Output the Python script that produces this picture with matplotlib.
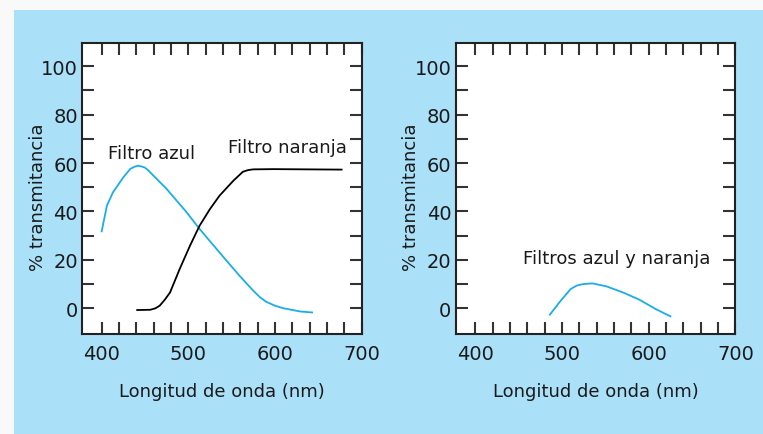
import matplotlib.pyplot as plt
from matplotlib.patches import Rectangle
from matplotlib.ticker import MultipleLocator, FixedLocator

# valores (nm, % transmitancia)
azul_x = [400, 406, 413, 425, 433, 438, 442, 446, 450, 454, 475, 498, 513, 536, 559, 575, 583, 590, 600, 609, 629, 643]
azul_y = [31.8, 42.4, 47.9, 54.1, 57.6, 58.5, 58.9, 58.6, 58.1, 56.9, 49.3, 39.7, 32.8, 23.1, 13.5, 7.3, 4.5, 2.7, 1.1, 0.1, -1.3, -1.7]

naranja_x = [441, 456, 462, 467, 473, 479, 490, 502, 513, 525, 536, 552, 563, 569, 575, 598, 677]
naranja_y = [-0.7, -0.6, 0.0, 1.1, 3.6, 6.6, 16.2, 25.9, 34.1, 41.0, 46.5, 52.7, 56.4, 57.1, 57.4, 57.5, 57.3]

ambos_x = [486, 497, 510, 517, 524, 535, 551, 570, 589, 608, 625]
ambos_y = [-2.6, 2.5, 8.0, 9.4, 10.0, 10.3, 9.1, 6.6, 3.6, -0.3, -3.3]

COLOR_AZUL = '#1aade6'
FONDO = '#abe0f9'
TEXTO = '#1a1a1a'

plt.rcParams['font.family'] = 'DejaVu Sans'

fig = plt.figure(figsize=(7.63, 4.35), dpi=100, facecolor='#f9f9f9')
fig.patches.append(Rectangle((14 / 763, 0), 1, 1 - 11 / 435, transform=fig.transFigure,
                             facecolor=FONDO, edgecolor='none', zorder=-5))

ax1 = fig.add_axes([0.1075, 0.2299, 0.3663, 0.6701])
ax2 = fig.add_axes([0.5972, 0.2299, 0.3667, 0.6701])

for ax in (ax1, ax2):
    ax.set_xlim(377.3, 700)
    ax.set_ylim(-10.6, 109.8)
    ax.xaxis.set_major_locator(MultipleLocator(100))
    ax.xaxis.set_minor_locator(FixedLocator(range(400, 701, 20)))
    ax.yaxis.set_major_locator(FixedLocator(range(0, 101, 20)))
    ax.yaxis.set_minor_locator(FixedLocator(range(0, 101, 10)))
    ax.tick_params(which='both', direction='in', top=True, right=True,
                   length=8.5, width=1.5, color='#333333', labelsize=14, labelcolor=TEXTO)
    ax.tick_params(axis='x', which='major', pad=7.5)
    ax.tick_params(axis='y', which='major', pad=3)
    for s in ax.spines.values():
        s.set_linewidth(1.5)
        s.set_color('#222222')
    ax.set_xlabel('Longitud de onda (nm)', fontsize=13, color=TEXTO, va='center')
    ax.xaxis.set_label_coords(0.5, -0.1955)
    ax.set_ylabel('% transmitancia', fontsize=13, color=TEXTO, va='center')
    ax.yaxis.set_label_coords(-0.158, 0.472)

ax1.plot(azul_x, azul_y, color=COLOR_AZUL, lw=1.3)
ax1.plot(naranja_x, naranja_y, color='black', lw=1.3)
ax1.text(407.5, 64.3, 'Filtro azul', fontsize=13, va='center', color=TEXTO)
ax1.text(545.5, 66.6, 'Filtro naranja', fontsize=13, va='center', color=TEXTO)

ax2.plot(ambos_x, ambos_y, color=COLOR_AZUL, lw=1.3)
ax2.text(454.5, 20.8, 'Filtros azul y naranja', fontsize=13, va='center', color=TEXTO)

plt.savefig('out.png', dpi=100, facecolor=fig.get_facecolor())
